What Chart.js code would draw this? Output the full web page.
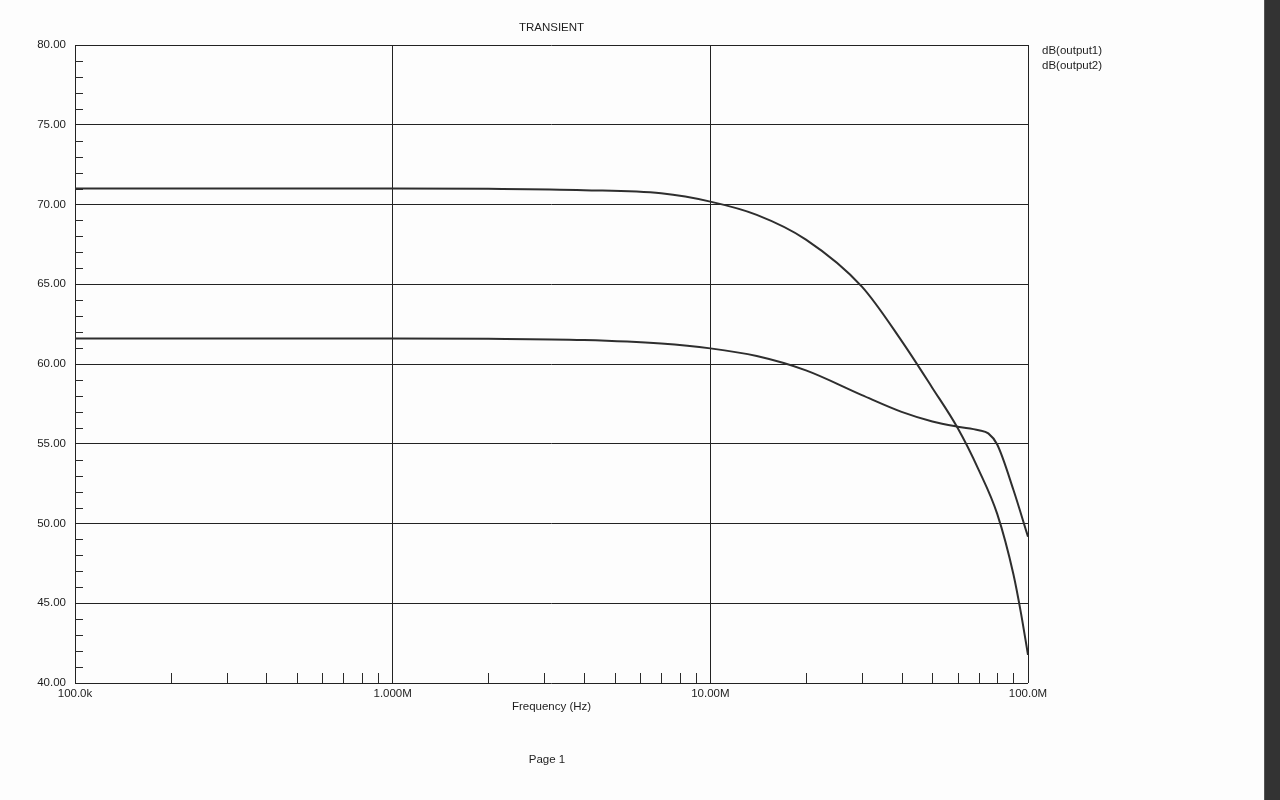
<!DOCTYPE html>
<html>
<head>
<meta charset="utf-8">
<title>TRANSIENT</title>
<script src="https://cdn.jsdelivr.net/npm/chart.js@4.4.1/dist/chart.umd.min.js"></script>
<style>
  html, body { margin: 0; padding: 0; background: #fdfdfd; overflow: hidden; }
  #wrap { position: relative; width: 1280px; height: 800px; }
  #plot { position: absolute; left: 0; top: 0; }
  #bar { position: absolute; left: 1264px; top: 0; width: 16px; height: 800px; background: #333; border-left: 1px solid #555; }
</style>
</head>
<body>
<div id="wrap">
  <canvas id="plot" width="1264" height="800"></canvas>
  <div id="bar"></div>
</div>
<script>
// dB(output1): frequency (Hz) and level
const freq1 = [1e5, 1e6, 2e6, 4e6, 7e6, 1e7, 1.4e7, 2e7, 3e7, 4e7, 5e7, 6e7, 7e7, 8e7, 9e7, 9.5e7, 1e8];
const output1 = [71.0, 71.0, 70.98, 70.9, 70.7, 70.18, 69.35, 67.8, 64.85, 61.45, 58.5, 56.0, 53.35, 50.6, 46.8, 44.4, 41.76];

// dB(output2)
const freq2 = [1e5, 1e6, 2e6, 4e6, 7e6, 1e7, 1.4e7, 2e7, 3e7, 4e7, 5e7, 6e7, 7e7, 7.5e7, 8e7, 9e7, 1e8];
const output2 = [61.6, 61.6, 61.58, 61.5, 61.28, 60.98, 60.5, 59.6, 58.05, 57.0, 56.4, 56.07, 55.85, 55.65, 54.95, 52.1, 49.17];

const seriesNames = ['dB(output1)', 'dB(output2)'];
const decadeTicks = [1e5, 1e6, 1e7, 1e8];
const decadeLabels = { 100000: '100.0k', 1000000: '1.000M', 10000000: '10.00M', 100000000: '100.0M' };

const FONT = '"Liberation Sans", Arial, sans-serif';
const INK = '#1e1e1e';

// extra marks: minor ticks, titles, legend text
const decor = {
    id: 'decor',
    afterDraw(chart) {
        const c = chart.ctx;
        const a = chart.chartArea;
        const xs = chart.scales.x, ys = chart.scales.y;
        c.save();
        c.strokeStyle = '#2a2a2a';
        c.lineWidth = 1;
        // minor y ticks, every 1 dB
        for (let v = 41; v < 80; v++) {
            if (v % 5 === 0) continue;
            const y = Math.round(ys.getPixelForValue(v)) + 0.5;
            c.beginPath(); c.moveTo(a.left, y); c.lineTo(a.left + 8, y); c.stroke();
        }
        // minor x ticks 2..9 in each decade
        for (let d = 1e5; d < 1e8; d *= 10) {
            for (let k = 2; k <= 9; k++) {
                const x = Math.round(xs.getPixelForValue(d * k)) + 0.5;
                c.beginPath(); c.moveTo(x, a.bottom); c.lineTo(x, a.bottom - 10); c.stroke();
            }
        }
        c.fillStyle = INK;
        c.font = '11.5px ' + FONT;
        c.textBaseline = 'middle';
        c.textAlign = 'center';
        const mid = (a.left + a.right) / 2;
        c.fillText('TRANSIENT', mid, 28);
        c.fillText('Frequency (Hz)', mid, 707);
        c.fillText('Page 1', 547, 760);
        c.textAlign = 'left';
        seriesNames.forEach((n, i) => c.fillText(n, a.right + 14, 51 + i * 15));
        c.restore();
    }
};

new Chart(document.getElementById('plot'), {
    type: 'line',
    data: {
        datasets: [
            { label: seriesNames[0], data: freq1.map((f, i) => ({ x: f, y: output1[i] })) },
            { label: seriesNames[1], data: freq2.map((f, i) => ({ x: f, y: output2[i] })) }
        ]
    },
    options: {
        responsive: false,
        animation: false,
        layout: { padding: { left: 0, top: 45, right: 236, bottom: 0 } },
        elements: {
            point: { radius: 0 },
            line: { borderColor: '#2e2e2e', borderWidth: 2, cubicInterpolationMode: 'monotone', fill: false }
        },
        plugins: { legend: { display: false }, title: { display: false }, tooltip: { enabled: false } },
        scales: {
            x: {
                type: 'logarithmic',
                min: 1e5,
                max: 1e8,
                afterBuildTicks(s) { s.ticks = decadeTicks.map(v => ({ value: v })); },
                afterFit(s) { s.height = 117; },
                grid: { color: '#222', lineWidth: 1, drawTicks: false },
                border: { display: false },
                ticks: {
                    color: INK,
                    font: { family: FONT, size: 11.5 },
                    padding: 4,
                    maxRotation: 0,
                    autoSkip: false,
                    callback: v => decadeLabels[v] || ''
                }
            },
            y: {
                min: 40,
                max: 80,
                afterFit(s) { s.width = 75; },
                grid: { color: '#222', lineWidth: 1, drawTicks: false },
                border: { display: false },
                ticks: {
                    stepSize: 5,
                    color: INK,
                    font: { family: FONT, size: 11.5 },
                    padding: 9,
                    callback: v => v.toFixed(2)
                }
            }
        }
    },
    plugins: [decor]
});
</script>
</body>
</html>
